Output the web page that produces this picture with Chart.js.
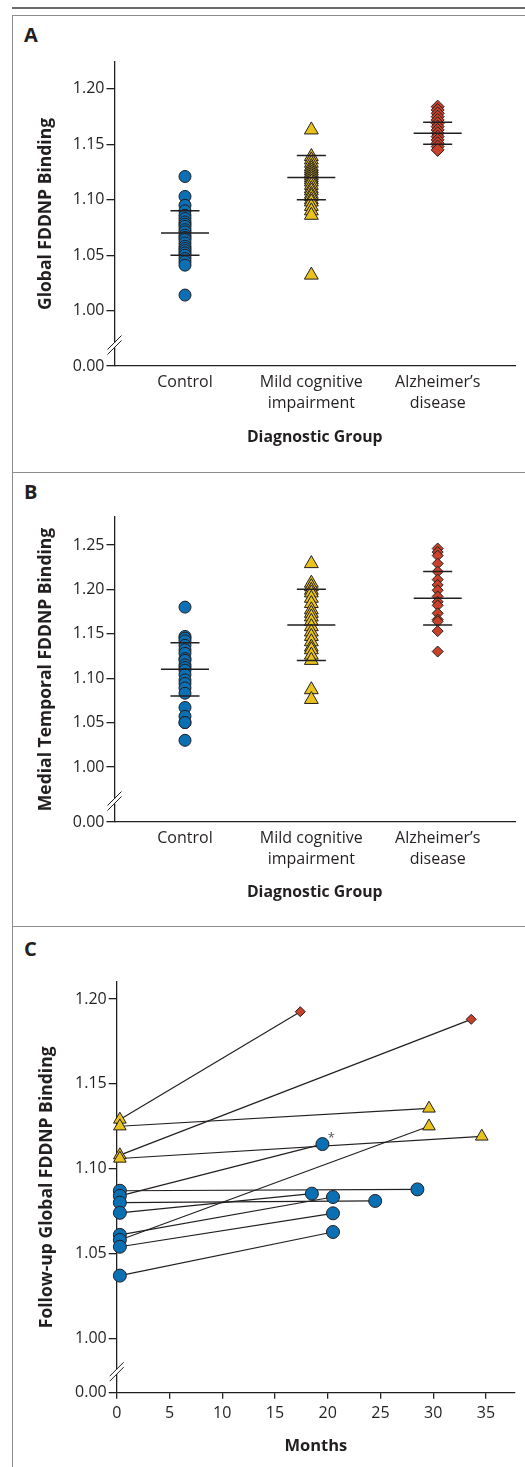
<!DOCTYPE html>
<html lang="en">
<head>
  <meta charset="UTF-8" />
  <title>FDDNP Binding</title>
  <script src="https://cdn.jsdelivr.net/npm/chart.js"></script>
  <style>
    * { margin: 0; padding: 0; box-sizing: border-box; }
    body { background: #fff; width: 525px; height: 1467px; overflow: hidden; font-family: 'Open Sans', sans-serif; }
    .page { position: relative; width: 525px; height: 1467px; }
    .rule { position: absolute; left: 12px; top: 7px; width: 513px; height: 2px; background: #6b6b6b; }
    .panel { position: absolute; left: 12px; width: 513px; border-left: 1.5px solid #8c8c8c; border-top: 1.5px solid #8c8c8c; }
    .letter { position: absolute; left: 11px; font-weight: bold; font-size: 20px; color: #231f20; line-height: 1; }
    canvas { position: absolute; }
  </style>
</head>
<body>
  <div class="page">
    <div class="rule"></div>
    <div class="panel" style="top:15px;height:458px"><div class="letter" style="top:9px">A</div></div>
    <div class="panel" style="top:472px;height:455px"><div class="letter" style="top:9px">B</div></div>
    <div class="panel" style="top:926px;height:541px"><div class="letter" style="top:12px">C</div></div>
    <canvas id="chartA" width="511" height="455" style="left:14px;top:17px"></canvas>
    <canvas id="chartB" width="511" height="453" style="left:14px;top:474px"></canvas>
    <canvas id="chartC" width="511" height="539" style="left:14px;top:928px"></canvas>
  </div>

  <script>
    // ---- data ----
    const groupLabels = [['Control'], ['Mild cognitive', 'impairment'], ['Alzheimer\u2019s', 'disease']];

    // panel A: global binding
    const aControl = [1.121, 1.103, 1.095, 1.090, 1.086, 1.083, 1.080, 1.078, 1.076, 1.073, 1.071, 1.068,
                      1.066, 1.064, 1.061, 1.058, 1.056, 1.054, 1.052, 1.050, 1.047, 1.044, 1.041, 1.014];
    const aMci = [1.163, 1.139, 1.136, 1.133, 1.130, 1.128, 1.126, 1.124, 1.122, 1.120, 1.118, 1.116,
                  1.113, 1.110, 1.108, 1.105, 1.103, 1.100, 1.098, 1.094, 1.090, 1.086, 1.032];
    const aAd = [1.184, 1.181, 1.178, 1.175, 1.172, 1.169, 1.166, 1.163, 1.160, 1.157, 1.154, 1.151, 1.148, 1.145];
    const aMean = [1.07, 1.12, 1.16];
    const aSd = [0.02, 0.02, 0.01];
    const aTicks = [1.00, 1.05, 1.10, 1.15, 1.20];

    // panel B: medial temporal binding
    const bControl = [1.180, 1.147, 1.145, 1.142, 1.137, 1.132, 1.128, 1.122, 1.120, 1.115, 1.112,
                      1.109, 1.104, 1.098, 1.094, 1.089, 1.083, 1.067, 1.057, 1.050, 1.050, 1.030];
    const bMci = [1.229, 1.207, 1.203, 1.199, 1.196, 1.190, 1.184, 1.177, 1.173, 1.169, 1.164,
                  1.158, 1.152, 1.147, 1.141, 1.135, 1.132, 1.126, 1.120, 1.087, 1.076];
    const bAd = [1.246, 1.242, 1.238, 1.229, 1.220, 1.211, 1.205, 1.199, 1.192, 1.186, 1.182,
                 1.173, 1.166, 1.164, 1.153, 1.130];
    const bMean = [1.11, 1.16, 1.19];
    const bSd = [0.03, 0.04, 0.03];
    const bTicks = [1.00, 1.05, 1.10, 1.15, 1.20, 1.25];

    // panel C: follow-up (group: 0 control, 1 MCI, 2 AD)
    const cBaseMonth = 0.3;
    const cBaseValue = [1.129, 1.108, 1.125, 1.106, 1.087, 1.084, 1.080, 1.074, 1.061, 1.058, 1.054, 1.037];
    const cBaseGroup = [1, 1, 1, 1, 0, 0, 0, 0, 0, 0, 0, 0];
    const cFollowMonth = [17.4, 33.6, 29.6, 34.6, 28.5, 19.5, 24.5, 18.5, 20.5, 29.6, 20.5, 20.5];
    const cFollowValue = [1.1925, 1.188, 1.1355, 1.119, 1.0878, 1.1145, 1.081, 1.0853, 1.0833, 1.125, 1.0737, 1.0627];
    const cFollowGroup = [2, 2, 1, 1, 0, 0, 0, 0, 0, 1, 0, 0];
    const cStarred = 5;
    const cTicks = [1.00, 1.05, 1.10, 1.15, 1.20];
    const monthTicks = [0, 5, 10, 15, 20, 25, 30, 35];

    // ---- styling ----
    const FONT = "'Open Sans', sans-serif";
    const INK = '#231f20';
    const COLORS = ['#0b6fb4', '#e9c21b', '#c8412a'];
    const STYLES = ['circle', 'triangle', 'rectRot'];
    const YTITLE = 17.5;

    // the // marks on the y axis between 0.00 and 1.00
    const breakMark = {
      id: 'breakMark',
      afterDraw(chart) {
        const { ctx, chartArea } = chart;
        const x = chartArea.left, y = chartArea.bottom - 21;
        ctx.save();
        ctx.fillStyle = '#fff';
        ctx.fillRect(x - 2, y - 2.5, 4, 5);
        ctx.strokeStyle = INK;
        ctx.lineWidth = 1;
        [-2.5, 2.5].forEach(d => {
          ctx.beginPath();
          ctx.moveTo(x - 7, y + d + 7);
          ctx.lineTo(x + 7, y + d - 7);
          ctx.stroke();
        });
        ctx.restore();
      }
    };

    function yAxis(min, max, breakVal, ticks, title, width, titleX) {
      return {
        type: 'linear', min, max,
        afterBuildTicks: s => { s.ticks = [breakVal, ...ticks].map(v => ({ value: v })); },
        afterFit: s => { s.width = width; },
        border: { color: INK, width: 1.3 },
        grid: { drawOnChartArea: false, drawTicks: true, tickLength: 8, color: INK, lineWidth: 1.3 },
        ticks: {
          padding: 2, color: INK, autoSkip: false,
          font: { family: FONT, size: 16 },
          callback: v => v === breakVal ? '0.00' : v.toFixed(2)
        },
        title: {
          display: true, text: title, color: INK,
          font: { family: FONT, size: YTITLE, weight: 'bold', lineHeight: 1.2 },
          padding: { top: titleX - YTITLE * 0.6, bottom: 0 }
        }
      };
    }

    function meanSegments(vals, offs, half) {
      const d = [];
      vals.forEach((v, i) => {
        d.push({ x: i + 1 - half, y: v + offs[i] }, { x: i + 1 + half, y: v + offs[i] }, { x: i + 1 + half, y: null });
      });
      return d;
    }

    function groupChart(id, series, means, sds, yMin, yMax, breakVal, ticks, title, sizes) {
      const datasets = [];
      const zero = means.map(() => 0);
      const up = sds, down = sds.map(s => -s);
      datasets.push({ type: 'line', data: meanSegments(means, zero, 0.19), borderColor: INK, borderWidth: 1.5, pointRadius: 0, spanGaps: false, order: 0 });
      datasets.push({ type: 'line', data: meanSegments(means, up, 0.115), borderColor: INK, borderWidth: 1.5, pointRadius: 0, spanGaps: false, order: 0 });
      datasets.push({ type: 'line', data: meanSegments(means, down, 0.115), borderColor: INK, borderWidth: 1.5, pointRadius: 0, spanGaps: false, order: 0 });
      series.forEach((vals, i) => {
        datasets.push({
          type: 'scatter',
          data: vals.map(v => ({ x: i + 1, y: v })),
          pointStyle: STYLES[i], pointRadius: sizes[i],
          backgroundColor: COLORS[i], borderColor: INK, borderWidth: 1,
          clip: false, order: 1
        });
      });
      new Chart(document.getElementById(id), {
        type: 'scatter',
        data: { datasets },
        plugins: [breakMark],
        options: {
          responsive: false, animation: false, devicePixelRatio: 1,
          layout: { padding: { top: id === 'chartA' ? 45 : 43, right: 10, bottom: 21, left: 0 } },
          plugins: { legend: { display: false }, tooltip: { enabled: false } },
          scales: {
            x: {
              type: 'linear', min: 0.442, max: 3.612,
              afterBuildTicks: s => { s.ticks = [1, 2, 3].map(v => ({ value: v })); },
              afterFit: s => { s.height = id === 'chartA' ? 85 : 84; },
              border: { color: INK, width: 1.3 },
              grid: { drawOnChartArea: false, drawTicks: false },
              ticks: {
                padding: 6, color: INK, autoSkip: false, maxRotation: 0,
                font: { family: FONT, size: 16, lineHeight: 1.3 },
                callback: (v, i) => groupLabels[i]
              },
              title: {
                display: true, text: 'Diagnostic Group', color: INK,
                font: { family: FONT, size: 15.8, weight: 'bold', lineHeight: 1.2 },
                padding: { top: 0, bottom: 4 }
              }
            },
            y: yAxis(yMin, yMax, breakVal, ticks, title, 100.5, 32)
          }
        }
      });
    }

    groupChart('chartA', [aControl, aMci, aAd], aMean, aSd, 0.95, 1.2243, 0.95, aTicks,
               'Global FDDNP Binding', [6, 8, 6.5]);
    groupChart('chartB', [bControl, bMci, bAd], bMean, bSd, 0.938, 1.2815, 0.938, bTicks,
               'Medial Temporal FDDNP Binding', [6, 8, 5.5]);

    // ---- panel C ----
    const cDatasets = [];
    cBaseValue.forEach((v, i) => {
      cDatasets.push({
        type: 'line',
        data: [{ x: cBaseMonth, y: v }, { x: cFollowMonth[i], y: cFollowValue[i] }],
        borderColor: INK, borderWidth: 1.2, pointRadius: 0, clip: false, order: 2
      });
    });
    const cSizes = [6.5, 7.3, 5];
    [0, 1, 2].forEach(g => {
      const pts = [];
      cBaseValue.forEach((v, i) => { if (cBaseGroup[i] === g) pts.push({ x: cBaseMonth, y: v }); });
      cFollowValue.forEach((v, i) => { if (cFollowGroup[i] === g) pts.push({ x: cFollowMonth[i], y: v }); });
      cDatasets.push({
        type: 'scatter', data: pts,
        pointStyle: STYLES[g], pointRadius: cSizes[g],
        backgroundColor: COLORS[g], borderColor: INK, borderWidth: 1,
        clip: false, order: 1
      });
    });

    const starMark = {
      id: 'starMark',
      afterDatasetsDraw(chart) {
        const { ctx, scales } = chart;
        const px = scales.x.getPixelForValue(cFollowMonth[cStarred]);
        const py = scales.y.getPixelForValue(cFollowValue[cStarred]);
        ctx.save();
        ctx.fillStyle = '#555';
        ctx.font = `13px ${FONT}`;
        ctx.textAlign = 'center';
        ctx.textBaseline = 'middle';
        ctx.fillText('*', px + 9, py - 6);
        ctx.restore();
      }
    };

    new Chart(document.getElementById('chartC'), {
      type: 'scatter',
      data: { datasets: cDatasets },
      plugins: [breakMark, starMark],
      options: {
        responsive: false, animation: false, devicePixelRatio: 1,
        layout: { padding: { top: 54, right: 10, bottom: 7, left: 0 } },
        plugins: { legend: { display: false }, tooltip: { enabled: false } },
        scales: {
          x: {
            type: 'linear', min: 0, max: 37.75,
            afterBuildTicks: s => { s.ticks = monthTicks.map(v => ({ value: v })); },
            afterFit: s => { s.height = 67.3; },
            border: { color: INK, width: 1.3 },
            grid: { drawOnChartArea: false, drawTicks: true, tickLength: 6, color: INK, lineWidth: 1.3 },
            ticks: {
              padding: 4, color: INK, autoSkip: false, maxRotation: 0,
              font: { family: FONT, size: 16, lineHeight: 1.3 }
            },
            title: {
              display: true, text: 'Months', color: INK,
              font: { family: FONT, size: 16.5, weight: 'bold', lineHeight: 1.2 },
              padding: { top: 0, bottom: 4 }
            }
          },
          y: yAxis(0.968, 1.21, 0.968, cTicks, 'Follow-up Global FDDNP Binding', 102.7, 33)
        }
      }
    });
  </script>
</body>
</html>
